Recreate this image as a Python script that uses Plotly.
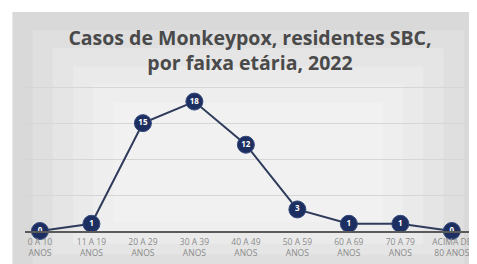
import plotly.graph_objects as go

categories = ["0 A 10<br>ANOS", "11 A 19<br>ANOS", "20 A 29<br>ANOS", "30 A 39<br>ANOS",
              "40 A 49<br>ANOS", "50 A 59<br>ANOS", "60 A 69<br>ANOS", "70 A 79<br>ANOS",
              "ACIMA DE<br>80 ANOS"]
cases = [0, 1, 15, 18, 12, 3, 1, 1, 0]
title_text = "Casos de Monkeypox, residentes SBC,<br>por faixa etária, 2022"

fig = go.Figure()
fig.add_trace(go.Scatter(
    x=list(range(len(categories))), y=cases,
    mode="lines+markers+text",
    text=[str(v) for v in cases],
    textposition="middle center",
    textfont=dict(family="Open Sans", size=8, color="white", weight="bold"),
    line=dict(color="#2e3b5a", width=2),
    marker=dict(size=17, color="#1d2f60", line=dict(color="#34497c", width=1)),
    cliponaxis=False,
    hoverinfo="skip",
))

# grey panel behind the chart, approximating a soft radial gradient
panel_fills = ["#d9d9d9", "#dfdfdf", "#e5e5e5", "#eaeaea", "#eeeeee", "#f1f1f1"]
x0, x1, y0, y1 = -0.028, 1.02, -0.3, 1.45
for i, col in enumerate(panel_fills):
    dx = i * 0.045
    dy = i * 0.12
    fig.add_shape(type="rect", xref="paper", yref="paper", layer="below",
                  x0=x0 + dx, x1=x1 - dx, y0=y0 + dy * 0.6, y1=y1 - dy,
                  fillcolor=col, line=dict(width=0))

fig.update_layout(
    width=469, height=256,
    margin=dict(l=17, r=2, t=72, b=33, autoexpand=False),
    paper_bgcolor="white",
    plot_bgcolor="rgba(0,0,0,0)",
    showlegend=False,
    title=dict(text=title_text, x=0.5, xref="paper", xanchor="center",
               y=0.855, yanchor="middle",
               font=dict(family="Open Sans", size=19.5, color="#4a4a4a", weight="bold")),
    xaxis=dict(
        tickmode="array", tickvals=list(range(len(categories))), ticktext=categories,
        range=[-0.29, 8.45], showgrid=False, zeroline=False,
        showline=True, linecolor="#5a5a5a", linewidth=1.5,
        ticks="", tickfont=dict(family="Open Sans", size=8.5, color="#8a8a8a"),
        ticklabeloverflow="allow", automargin=False, ticklabelstandoff=2,
        fixedrange=True,
    ),
    yaxis=dict(
        range=[0, 21], tickvals=[5, 10, 15, 20], showticklabels=False,
        showgrid=True, gridcolor="#d6d6d6", gridwidth=1, zeroline=False,
        showline=False, ticks="", fixedrange=True, automargin=False,
    ),
)

fig.write_html("out.html")
